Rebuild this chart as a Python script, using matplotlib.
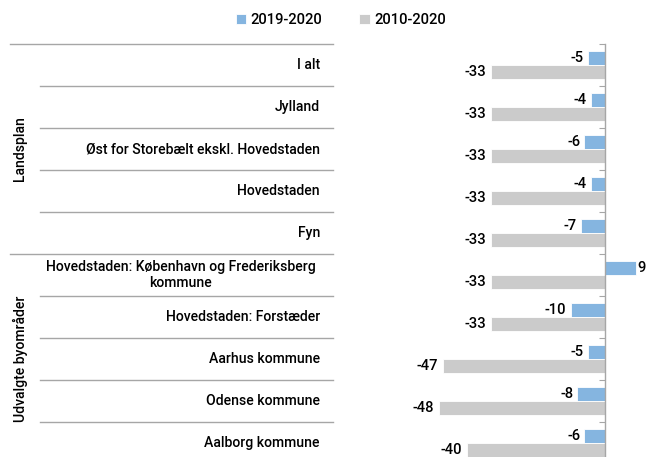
import numpy as np
import matplotlib.pyplot as plt

plt.rcParams['font.family'] = ['Roboto', 'DejaVu Sans']
plt.rcParams['font.weight'] = 'medium'

# data
categories = ['I alt', 'Jylland', 'Øst for Storebælt ekskl. Hovedstaden', 'Hovedstaden', 'Fyn',
              'Hovedstaden: København og Frederiksberg\nkommune', 'Hovedstaden: Forstæder',
              'Aarhus kommune', 'Odense kommune', 'Aalborg kommune']
groups = ['Landsplan', 'Udvalgte byområder']
group_sizes = [5, 5]
change_1920 = [-5, -4, -6, -4, -7, 9, -10, -5, -8, -6]
change_1020 = [-33, -33, -33, -33, -33, -33, -33, -47, -48, -40]
series_names = ['2019-2020', '2010-2020']

blue = '#85b5e0'
grey = '#cbcbcb'
linecol = '#a6a6a6'
fs = 10.1

W, H = 647, 457
fig = plt.figure(figsize=(W / 100, H / 100), dpi=100)

# vertical placement in pixels: rows start at y=44 and are 42 px tall
top_px, row_px = 44, 42
n = len(categories)
bot_px = top_px + n * row_px
ax_bottom = (H - bot_px) / H
ax_height = (bot_px - top_px) / H

# bar axes: zero at x=605, 3.45 px per unit
zero_px, ppu = 605, 3.45
xmin, xmax = -80, 10
left_px = zero_px + xmin * ppu
ax = fig.add_axes([left_px / W, ax_bottom, (xmax - xmin) * ppu / W, ax_height])

y = np.arange(n) + 0.5
h = 0.32
off = 0.165
b1 = ax.barh(y - off, change_1920, height=h, color=blue, edgecolor='white', linewidth=0.6, label=series_names[0])
b2 = ax.barh(y + off, change_1020, height=h, color=grey, edgecolor='white', linewidth=0.6, label=series_names[1])

for yy, v in zip(y - off, change_1920):
    if v < 0:
        ax.text(v - 1.2, yy, f'{v}', ha='right', va='center', fontsize=fs + 0.5)
    else:
        ax.text(v + 0.4, yy, f'{v}', ha='left', va='center', fontsize=fs + 0.5)
for yy, v in zip(y + off, change_1020):
    ax.text(v - 1.5, yy, f'{v}', ha='right', va='center', fontsize=fs + 0.5)

ax.set_xlim(xmin, xmax)
ax.set_ylim(n, 0)
for s in ['top', 'right', 'bottom']:
    ax.spines[s].set_visible(False)
ax.spines['left'].set_position(('data', 0))
ax.spines['left'].set_color(linecol)
ax.spines['left'].set_linewidth(1.0)
ax.set_xticks([])
ax.set_yticks(np.arange(n + 1))
ax.set_yticklabels([])
ax.tick_params(axis='y', length=4, color=linecol, direction='out')
ax.patch.set_visible(False)

# left table with category and group labels
axl = fig.add_axes([0, ax_bottom, 335 / W, ax_height])
axl.set_xlim(0, 335)
axl.set_ylim(n, 0)
axl.axis('off')
starts = np.cumsum([0] + group_sizes)
for i in range(n + 1):
    x0 = 10 if i in starts else 40
    axl.plot([x0, 333], [i, i], color=linecol, lw=1.0, clip_on=False)
for i, c in enumerate(categories):
    if '\n' in c:
        axl.text(181, i + 0.5, c, ha='center', va='center', fontsize=fs, multialignment='center',
                 linespacing=1.2)
    else:
        axl.text(320, i + 0.5, c, ha='right', va='center', fontsize=fs)
for g, s0, sz in zip(groups, starts[:-1], group_sizes):
    axl.text(20, s0 + sz / 2, g, rotation=90, ha='center', va='center', fontsize=fs)

fig.legend(handles=[b1, b2], labels=series_names, loc='center', bbox_to_anchor=(0.527, 0.956),
           ncol=2, frameon=False, fontsize=fs + 0.5, handlelength=0.7, handleheight=0.7,
           handletextpad=0.3, columnspacing=2.5)

fig.savefig('out.png', dpi=100)
